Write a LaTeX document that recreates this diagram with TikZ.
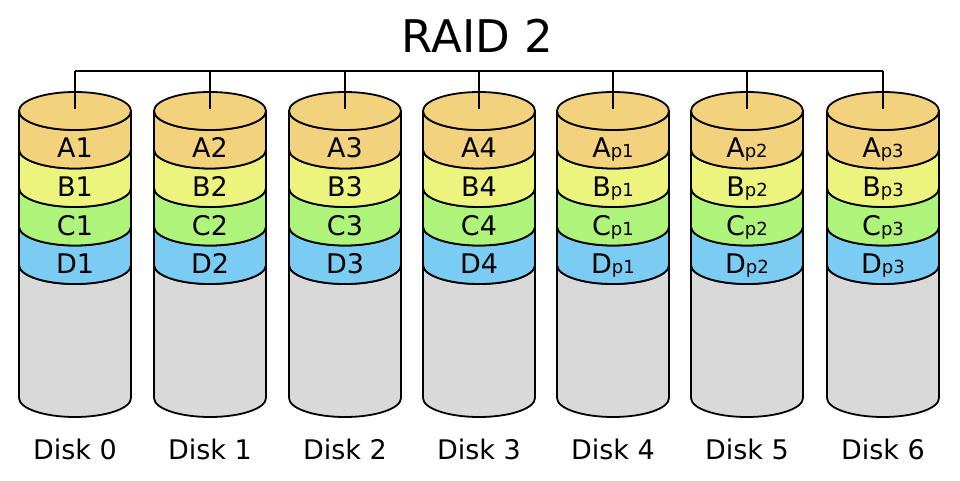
\documentclass[tikz,border=0pt]{standalone}
\usepackage{fontspec}
\setmainfont{DejaVu Sans}
\definecolor{cA}{HTML}{F3D27D}
\definecolor{cB}{HTML}{EDF47E}
\definecolor{cC}{HTML}{AEF47A}
\definecolor{cD}{HTML}{7ACCF2}
\definecolor{cG}{HTML}{D9D9D9}
\tikzset{
  disk/.style={draw=black, line width=1.8pt, line join=round},
  bus/.style={draw=black, line width=1.6pt},
  lbl/.style={anchor=base, inner sep=0pt, font=\fontsize{27}{27}\selectfont},
  disklabel/.style={anchor=base, inner sep=0pt, font=\fontsize{27}{27}\selectfont},
  ttl/.style={anchor=base, inner sep=0pt, font=\fontsize{45}{45}\selectfont}
}
\newcommand{\sbs}[1]{{\fontsize{18}{18}\selectfont #1}}
\begin{document}
\begin{tikzpicture}[x=1pt,y=1pt]
\useasboundingbox (0,0) rectangle (960,480);
\def\rx{56}
\def\ry{19}
\foreach \i/\cx in {0/75,1/210,2/345,3/479,4/613,5/747,6/883}{
  % grey body
  \filldraw[disk, fill=cG] (\cx-\rx,215) -- (\cx-\rx,82) arc[start angle=180, end angle=360, x radius=\rx, y radius=\ry] -- (\cx+\rx,215) arc[start angle=0, end angle=-180, x radius=\rx, y radius=\ry] -- cycle;
  % bands
  \foreach \col/\yt/\yb in {cD/253.5/215, cC/292/253.5, cB/330.5/292, cA/369/330.5}{
    \filldraw[disk, fill=\col] (\cx-\rx,\yt) -- (\cx-\rx,\yb) arc[start angle=180, end angle=360, x radius=\rx, y radius=\ry] -- (\cx+\rx,\yt) arc[start angle=0, end angle=-180, x radius=\rx, y radius=\ry] -- cycle;
  }
  % top ellipse
  \filldraw[disk, fill=cA] (\cx,369) ellipse[x radius=\rx, y radius=\ry];
  \coordinate (top\i) at (\cx,371);
  \coordinate (bus\i) at (\cx,409);
  \node[disklabel] (disk\i) at (\cx,21) {Disk \i};
}
% data labels
\foreach \i/\cx in {0/75,1/210,2/345,3/479}{
  \pgfmathtruncatemacro{\n}{\i+1}
  \node[lbl] (A\i) at (\cx,322) {A\n};
  \node[lbl] (B\i) at (\cx,283.5) {B\n};
  \node[lbl] (C\i) at (\cx,245) {C\n};
  \node[lbl] (D\i) at (\cx,206.5) {D\n};
}
\foreach \i/\cx in {4/613,5/747,6/883}{
  \pgfmathtruncatemacro{\n}{\i-3}
  \node[lbl] (A\i) at (\cx,322) {A\sbs{p\n}};
  \node[lbl] (B\i) at (\cx,283.5) {B\sbs{p\n}};
  \node[lbl] (C\i) at (\cx,245) {C\sbs{p\n}};
  \node[lbl] (D\i) at (\cx,206.5) {D\sbs{p\n}};
}
% bus
\draw[bus] (bus0) -- (bus6);
\foreach \i in {0,...,6}{ \draw[bus] (bus\i) -- (top\i); }
% title
\node[ttl] (title) at (477.5,427) {RAID 2};
\end{tikzpicture}
\end{document}
